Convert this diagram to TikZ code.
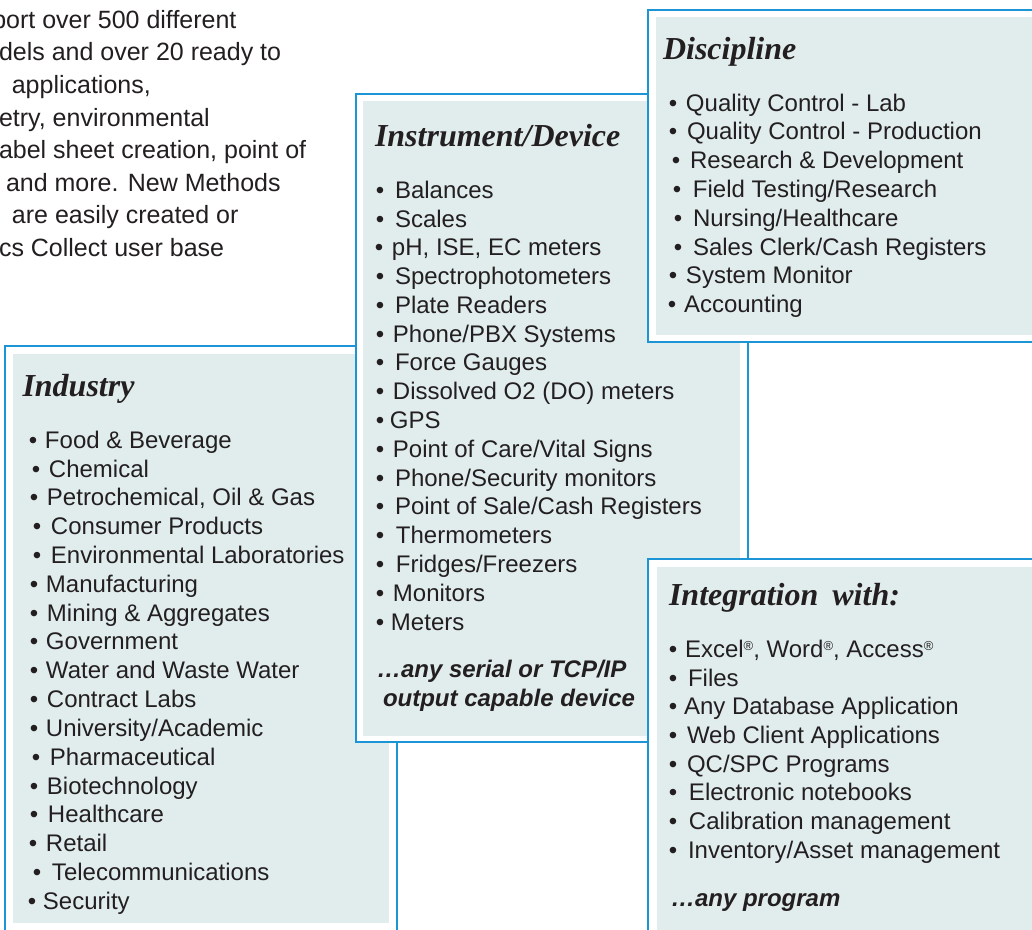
\documentclass[tikz,border=0pt]{standalone}
\usepackage{fontspec}
\setmainfont{Liberation Sans}
\newfontfamily\ttlserif{Liberation Serif}
\definecolor{boxblue}{HTML}{1B95D5}
\definecolor{boxfill}{HTML}{E1EDED}
\definecolor{ink}{HTML}{231F20}
\newcommand\regmark{{\fontsize{13}{13}\selectfont\raisebox{7pt}{®}}}
\begin{document}
\begin{tikzpicture}[x=1pt,y=-1pt,
  itm/.style={anchor=base west, inner sep=0pt, outer sep=0pt, text=ink, font=\fontsize{24}{28}\selectfont},
  para/.style={anchor=base west, inner sep=0pt, outer sep=0pt, text=ink, font=\fontsize{25}{30}\selectfont},
  ttl/.style={anchor=base west, inner sep=0pt, outer sep=0pt, text=ink, font=\ttlserif\bfseries\itshape\fontsize{32}{36}\selectfont},
  foot/.style={anchor=base west, inner sep=0pt, outer sep=0pt, text=ink, font=\bfseries\itshape\fontsize{24}{28}\selectfont},
  frame/.style={draw=boxblue, line width=2.5pt, fill=white},
  inner/.style={fill=boxfill}]
\useasboundingbox (0,0) rectangle (1032,929);
\fill[white] (0,0) rectangle (1032,929);

% top-left paragraph (cut by the picture's left edge)
\foreach \px/\pt [count=\i] in {-7.7/{port over 500 different},-1/{dels and over 20 ready to},11.8/{applications,},-1/{etry, environmental},-1/{abel sheet creation, point of},6/{and more. New Methods},12/{are easily created or},-1/{cs Collect user base}}
  \node[para] (p\i) at (\px,{28.3+32.6*(\i-1)}) {\pt};

% Industry box
\draw[frame] (5,346) rectangle (397,940);
\fill[inner] (13,354) rectangle (389,923);
\node[ttl] (indT) at (22.5,396.7) {Industry};
\foreach \bx/\tx/\t [count=\i] in {33/45/{Food \& Beverage},36/49/{Chemical},34/47/{Petrochemical, Oil \& Gas},37/51/{Consumer Products},37/51/{Environmental Laboratories},34/46/{Manufacturing},34/47/{Mining \& Aggregates},34/46/{Government},34/46/{Water and Waste Water},34/47/{Contract Labs},34/46/{University/Academic},36/50/{Pharmaceutical},34/47/{Biotechnology},34/48/{Healthcare},33/46/{Retail},37/52/{Telecommunications},32/43/{Security}}
{
  \pgfmathsetmacro\g{\tx-\bx-4.2}
  \node[itm] (ind\i) at (\tx,{448.3+28.81*(\i-1)}) {\makebox[0pt][r]{•\hspace{\g pt}}\t};
}

% Instrument/Device box
\draw[frame] (356,94) rectangle (748,742);
\fill[inner] (363,101) rectangle (740,736);
\node[ttl] (insT) at (375,146.7) {Instrument/Device};
\foreach \bx/\tx/\t [count=\i] in {380/395/{Balances},380/395/{Scales},379/392/{pH, ISE, EC meters},380/395/{Spectrophotometers},380/395/{Plate Readers},380/393/{Phone/PBX Systems},380/395/{Force Gauges},380/393/{Dissolved O2 (DO) meters},380/390/{GPS},380/393/{Point of Care/Vital Signs},380/395/{Phone/Security monitors},380/395/{Point of Sale/Cash Registers},380/396/{Thermometers},380/396/{Fridges/Freezers},380/393/{Monitors},380/391/{Meters}}
{
  \pgfmathsetmacro\g{\tx-\bx-4.2}
  \node[itm] (ins\i) at (\tx,{198.3+28.78*(\i-1)}) {\makebox[0pt][r]{•\hspace{\g pt}}\t};
}
\node[foot] (insF1) at (377,677.3) {…any serial or TCP/IP};
\node[foot] (insF2) at (383,706) {output capable device};

% Discipline box
\draw[frame] (648,10) rectangle (1045,342);
\fill[inner] (656,17) rectangle (1040,335);
\node[ttl] (disT) at (663,59.3) {Discipline};
\foreach \bx/\tx/\t [count=\i] in {673/686/{Quality Control - Lab},673/687/{Quality Control - Production},676/690/{Research \& Development},677/693/{Field Testing/Research},678/693/{Nursing/Healthcare},678/693/{Sales Clerk/Cash Registers},673/686/{System Monitor},672/684/{Accounting}}
{
  \pgfmathsetmacro\g{\tx-\bx-4.2}
  \node[itm] (dis\i) at (\tx,{111+28.8*(\i-1)}) {\makebox[0pt][r]{•\hspace{\g pt}}\t};
}

% Integration box
\draw[frame] (648,559) rectangle (1045,945);
\fill[inner] (657,567) rectangle (1040,940);
\node[ttl] (intT) at (669,605) {Integration\hspace{6pt} with:};
\foreach \bx/\tx/\t [count=\i] in {673/685/{Excel\regmark, Word\regmark, Access\regmark},673/688/{Files},673/684/{Any Database Application},673/687/{Web Client Applications},673/687/{QC/SPC Programs},673/689/{Electronic notebooks},673/689/{Calibration management},673/688/{Inventory/Asset management}}
{
  \pgfmathsetmacro\g{\tx-\bx-4.2}
  \node[itm] (int\i) at (\tx,{657.3+28.7*(\i-1)}) {\makebox[0pt][r]{•\hspace{\g pt}}\t};
}
\node[foot] (intF) at (671,906.7) {…any program};
\end{tikzpicture}
\end{document}
